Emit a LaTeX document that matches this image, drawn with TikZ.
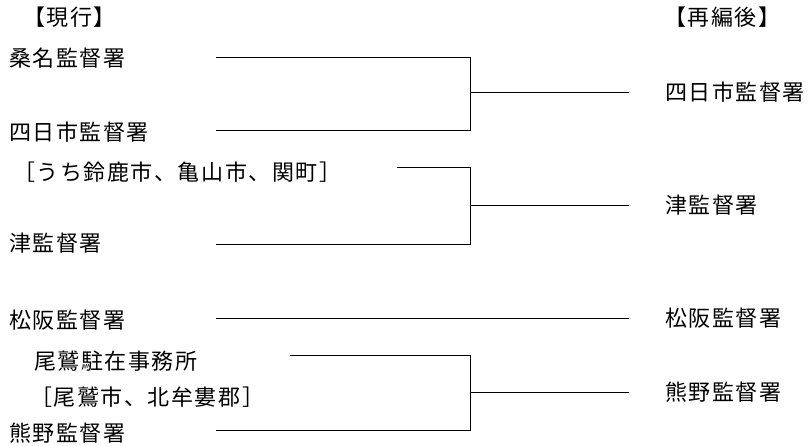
\documentclass[tikz,border=0pt]{standalone}
\usepackage{fontspec}
\setmainfont{Noto Sans CJK JP}
\newfontfamily\jpfont[LetterSpace=7]{Noto Sans CJK JP}
\begin{document}
\begin{tikzpicture}[x=1pt,y=-1pt,
  lbl/.style={anchor=west,inner sep=0pt,font=\jpfont\fontsize{22}{26}\selectfont},
  conn/.style={draw=black,line width=0.9pt}]
\useasboundingbox (0,0) rectangle (809,445);
% headings
\node[lbl] (hcur) at (23,17) {【現行】};
\node[lbl] (hnew) at (664,17) {【再編後】};
% left labels
\node[lbl] (kuwana) at (9,58) {桑名監督署};
\node[lbl] (yokk) at (9,132) {四日市監督署};
\node[lbl] (suzuka) at (13,172) {［うち鈴鹿市、亀山市、関町］};
\node[lbl] (tsu) at (9,243) {津監督署};
\node[lbl] (matsu) at (9,320) {松阪監督署};
\node[lbl] (owase) at (34,361) {尾鷲駐在事務所};
\node[lbl] (owasea) at (30,397) {［尾鷲市、北牟婁郡］};
\node[lbl] (kumano) at (9,433) {熊野監督署};
% right labels
\node[lbl] (ryokk) at (665,92) {四日市監督署};
\node[lbl] (rtsu) at (665,205) {津監督署};
\node[lbl] (rmatsu) at (665,318) {松阪監督署};
\node[lbl] (rkumano) at (665,392) {熊野監督署};
% connector points
\coordinate (a1) at (216,57);  \coordinate (b1) at (470,57);
\coordinate (a2) at (216,130); \coordinate (b2) at (470,130);
\coordinate (m1) at (470,92);  \coordinate (e1) at (629,92);
\coordinate (a3) at (397,167); \coordinate (b3) at (470,167);
\coordinate (a4) at (216,244); \coordinate (b4) at (470,244);
\coordinate (m2) at (470,205); \coordinate (e2) at (629,205);
\coordinate (a5) at (216,318); \coordinate (e3) at (629,318);
\coordinate (a6) at (290,355); \coordinate (b6) at (470,355);
\coordinate (a7) at (216,430); \coordinate (b7) at (470,430);
\coordinate (m3) at (470,392); \coordinate (e4) at (629,392);
% connectors
\draw[conn] (a1) -- (b1) -- (b2) -- (a2);
\draw[conn] (m1) -- (e1);
\draw[conn] (a3) -- (b3) -- (b4) -- (a4);
\draw[conn] (m2) -- (e2);
\draw[conn] (a5) -- (e3);
\draw[conn] (a6) -- (b6) -- (b7) -- (a7);
\draw[conn] (m3) -- (e4);
\end{tikzpicture}
\end{document}
